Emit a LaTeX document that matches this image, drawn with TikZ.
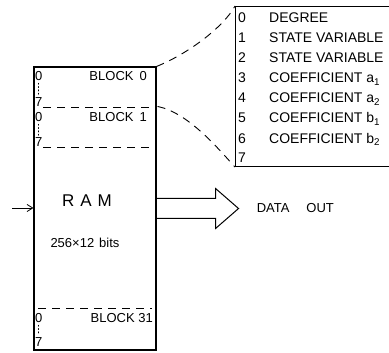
\documentclass[tikz,border=0pt]{standalone}
\usepackage{fontspec}
\setmainfont{Liberation Sans}
\usetikzlibrary{arrows.meta, positioning, calc}

\begin{document}
\begin{tikzpicture}[
    x=1pt, y=-1pt,
    frame/.style={draw, line width=1.1pt, inner sep=0pt},
    lettering/.style={font=\fontsize{13}{13}\selectfont, inner sep=0pt},
    tabtext/.style={font=\fontsize{14}{14}\selectfont, inner sep=0pt, anchor=base west},
    divider/.style={dash pattern=on 8pt off 6pt, line width=0.9pt},
    rangedots/.style={dash pattern=on 0.9pt off 2.4pt, line width=0.9pt, line cap=round, shorten <=2pt, shorten >=2pt},
    arrow/.style={-{Straight Barb[length=2mm, width=2.5mm]}, line width=0.8pt},
]
    \useasboundingbox (0,0) rectangle (389,353);
    \clip (0,0) rectangle (389,353);

    % RAM
    \node[frame, minimum width=122pt, minimum height=283pt] (ram) at (95,208.5) {};
    \node[font=\fontsize{17}{17}\selectfont, inner sep=0pt] (ramname) at (87,201) {R\hspace{6pt}A\hspace{6pt}M};
    \node[font=\fontsize{13}{13}\selectfont, inner sep=0pt] (ramsize) at (85,243) {256×12\hspace{5pt}bits};

    % Blocks
    \node[lettering, anchor=base west] (b0lo) at (35,81) {0};
    \node[lettering, anchor=base west] (b0hi) at (35,107) {7};
    \node[lettering, anchor=base east] (b0name) at (147,81) {BLOCK\hspace{6pt}0};
    \draw[rangedots] (b0lo.south) -- (b0hi.north);
    \draw[divider] (43,107) -- (152,107);
    \coordinate (b1top) at ($(ram.north east)+(1,40)$);

    \node[lettering, anchor=base west] (b1lo) at (35,122) {0};
    \node[lettering, anchor=base west] (b1hi) at (35,147) {7};
    \node[lettering, anchor=base east] (b1name) at (147,122) {BLOCK\hspace{6pt}1};
    \draw[rangedots] (b1lo.south) -- (b1hi.north);
    \draw[divider] (43,147) -- (152,147);

    \draw[divider] (38,308) -- (152,308);
    \node[lettering, anchor=base west] (b31lo) at (35,323) {0};
    \node[lettering, anchor=base west] (b31hi) at (35,346) {7};
    \node[lettering, anchor=base east] (b31name) at (153,323) {BLOCK 31};
    \draw[rangedots] (b31lo.south) -- (b31hi.north);

    % Input
    \coordinate (addr) at (12,208);
    \draw[arrow] (addr) -- (addr -| ram.west);

    % Output
    \draw[line width=1pt, line join=miter] ($(ram.east)+(0,-10)$) -- ++(59,0) -- ++(0,-10) -- ++(23,20) coordinate (outtip)
        -- ++(-23,20) -- ++(0,-10) -- ++(-59,0);
    \node[font=\fontsize{13}{13}\selectfont, inner sep=0pt, right=18pt of outtip] (dataout) {DATA\hspace{17pt}OUT};

    % Block contents
    \node[frame, minimum width=180pt, minimum height=160pt, anchor=north west] (coeffs) at (235,6) {};
    \node[tabtext] (r0) at (238,23) {0};
    \node[tabtext] (t0) at (269,23) {DEGREE};
    \node[tabtext] (r1) at (238,43) {1};
    \node[tabtext] (t1) at (269,43) {STATE VARIABLE};
    \node[tabtext] (r2) at (238,63) {2};
    \node[tabtext] (t2) at (269,63) {STATE VARIABLE};
    \node[tabtext] (r3) at (238,83) {3};
    \node[tabtext] (t3) at (269,83) {COEFFICIENT a\textsubscript{1}};
    \node[tabtext] (r4) at (238,103) {4};
    \node[tabtext] (t4) at (269,103) {COEFFICIENT a\textsubscript{2}};
    \node[tabtext] (r5) at (238,123) {5};
    \node[tabtext] (t5) at (269,123) {COEFFICIENT b\textsubscript{1}};
    \node[tabtext] (r6) at (238,143) {6};
    \node[tabtext] (t6) at (269,143) {COEFFICIENT b\textsubscript{2}};
    \node[tabtext] (r7) at (238,163) {7};

    % Zoom lines
    \draw[divider] (ram.north east) .. controls +(30,-12) and +(-12,22) .. (coeffs.north west);
    \draw[divider] (b1top) .. controls +(30,6) and +(-18,-20) .. (coeffs.south west);
\end{tikzpicture}
\end{document}
